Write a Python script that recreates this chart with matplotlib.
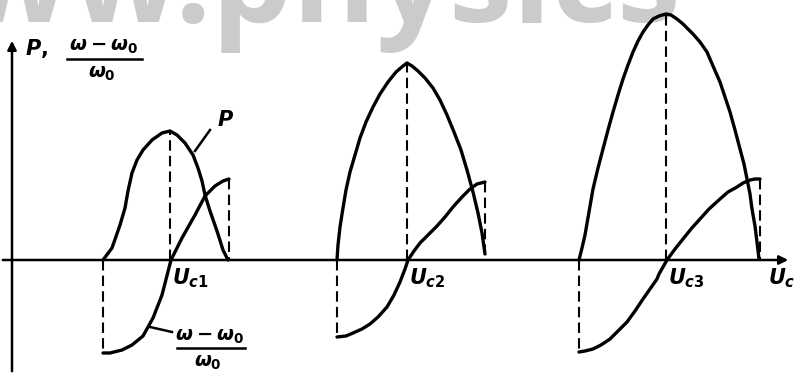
import numpy as np
import matplotlib.pyplot as plt

plt.rcParams['mathtext.fontset'] = 'custom'
plt.rcParams['mathtext.it'] = 'DejaVu Sans:italic:bold'
plt.rcParams['mathtext.rm'] = 'DejaVu Sans:bold'
plt.rcParams['mathtext.bf'] = 'DejaVu Sans:bold'

# --- power curves P(U) for the three steps (anode voltage U, power P) ---
p1_u = [91, 100, 108, 113, 116, 120, 125, 131, 140, 150, 158, 165, 173, 181, 186, 190, 193, 198, 205, 211, 216]
p1_v = [0, 12, 35, 52, 69, 87, 100, 110, 120, 127, 129, 125, 117, 105, 92, 79, 65, 49, 29, 10, 0]
p2_u = [325, 326, 328, 331, 334, 338, 343, 348, 354, 361, 368, 376, 384, 391, 395,
        400, 406, 413, 421, 428, 435, 442, 449, 455, 461, 466, 470, 473]
p2_v = [0, 15, 33, 52, 70, 88, 105, 122, 138, 153, 166, 178, 188, 194, 197,
        194, 189, 182, 172, 160, 145, 128, 110, 90, 68, 47, 27, 6]
p3_u = [567, 570, 573, 577, 581, 586, 591, 596, 601, 606, 611, 616, 621, 626, 631, 636, 641, 647, 654,
        659, 665, 671, 681, 688, 695, 701, 708, 713, 718, 723, 728, 732, 735, 738, 740, 743, 745, 747]
p3_v = [0, 12, 25, 48, 71, 92, 111, 130, 148, 165, 181, 195, 208, 219, 228, 235, 241, 244, 246,
        245, 241, 236, 226, 218, 208, 194, 178, 163, 148, 130, 111, 96, 81, 66, 51, 34, 18, 1]

# --- relative frequency deviation (w - w0)/w0 for the same steps ---
f1_u = [91, 98, 110, 120, 131, 141, 150, 159, 170, 183, 193, 203, 211, 217]
f1_v = [-93, -93, -90, -85, -76, -58, -35, 0, 22, 45, 64, 74, 79, 81]
f2_u = [325, 334, 341, 350, 358, 366, 375, 382, 388, 393, 396, 402, 408, 416, 425,
        433, 441, 450, 458, 465, 473]
f2_v = [-77, -76, -73, -69, -64, -57, -47, -35, -22, -9, 0, 9, 17, 25, 34,
        43, 53, 63, 71, 76, 78]
f3_u = [567, 573, 581, 589, 598, 606, 615, 623, 631, 638, 645, 647, 655, 663, 671,
        679, 688, 697, 708, 716, 725, 731, 738, 743, 748]
f3_v = [-92, -91, -89, -85, -79, -71, -62, -51, -39, -29, -19, -14, 0, 11, 21,
        31, 41, 51, 61, 68, 73, 77, 80, 81, 81]

# centre voltages U_c1, U_c2, U_c3 and the peak power at each
uc = [158, 395, 654]
uc_labels = ['$U_{c1}$', '$U_{c2}$', '$U_{c3}$']
p_peak = [129, 197, 246]

fig = plt.figure(figsize=(7.94, 3.74), dpi=100)
ax = fig.add_axes([0, 0, 1, 1])
ax.set_xlim(-12, 782)
ax.set_ylim(-114, 260)
ax.axis('off')

# faint site watermark across the top
ax.text(-159, 238, 'www.physics', fontsize=92, family='Open Sans', fontweight='bold',
        color='#cbcbcb', ha='left', va='baseline', zorder=0)

ink = dict(color='black', lw=2.4, solid_capstyle='round', solid_joinstyle='round', zorder=3)
dash = dict(color='black', lw=1.5, dashes=(5, 2.5), zorder=2)

for pu, pv, fu, fv in [(p1_u, p1_v, f1_u, f1_v), (p2_u, p2_v, f2_u, f2_v), (p3_u, p3_v, f3_u, f3_v)]:
    ax.plot(pu, pv, **ink)
    ax.plot(fu, fv, **ink)
    # dashed drops at both ends of the frequency curve
    ax.plot([fu[0], fu[0]], [0, fv[0]], **dash)
    ax.plot([fu[-1], fu[-1]], [fv[-1], 0], **dash)

for u, pk in zip(uc, p_peak):
    ax.plot([u, u], [0, pk], **dash)

# axes
ax.annotate('', xy=(779, 0), xytext=(-12, 0),
            arrowprops=dict(arrowstyle='-|>', lw=1.8, color='black', mutation_scale=13), zorder=4)
ax.annotate('', xy=(0, 222), xytext=(0, -114),
            arrowprops=dict(arrowstyle='-|>', lw=1.8, color='black', mutation_scale=13), zorder=4)


def frac(x, y, x0, x1, size=14):
    # hand-set fraction (w - w0)/w0 centred on x, bar at height y
    ax.text(x, y + 12, r'$\omega-\omega_0$', fontsize=size, ha='center', va='center')
    ax.plot([x0, x1], [y, y], color='black', lw=1.8)
    ax.text(x - 2, y - 15, r'$\omega_0$', fontsize=size, ha='center', va='center')


# axis labels
ax.text(13, 212, '$P,$', fontsize=15, ha='left', va='center')
frac(92, 201, 55, 130)
for u, lab in zip(uc, uc_labels):
    ax.text(u + 2, -6, lab, fontsize=15, ha='left', va='top')
ax.text(756, -6, '$U_c$', fontsize=15, ha='left', va='top')

# curve callouts
ax.plot([183, 198], [109, 130], color='black', lw=1.8)
ax.text(205, 140, '$P$', fontsize=15, ha='left', va='center')
ax.plot([138, 160], [-67, -72], color='black', lw=1.8)
frac(198, -88, 165, 233)

fig.savefig('out.png', dpi=100)
